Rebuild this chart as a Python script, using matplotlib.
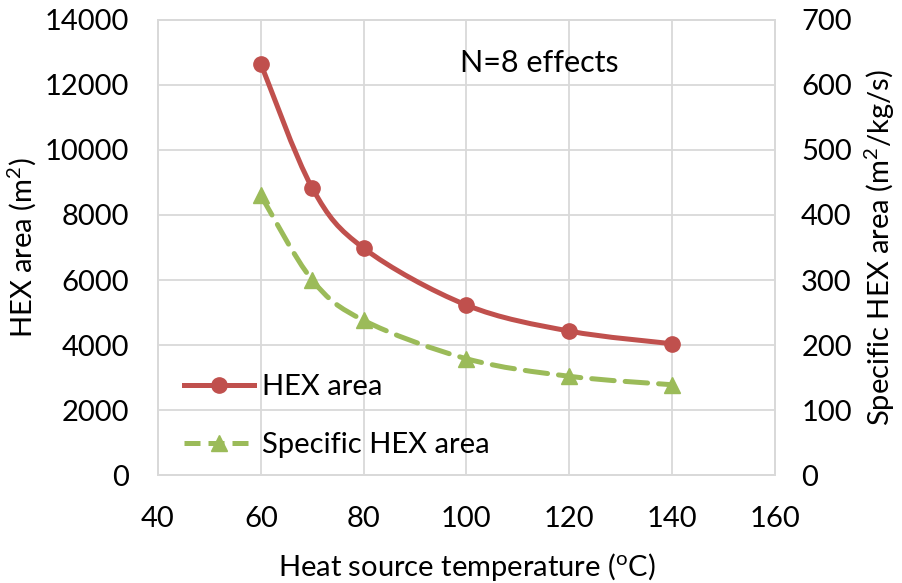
import matplotlib.pyplot as plt
import numpy as np
from matplotlib.path import Path
from matplotlib.patches import PathPatch
from matplotlib.lines import Line2D

plt.rcParams['font.family'] = ['Lato', 'DejaVu Sans']

# data
temps = [60, 70, 80, 100, 120, 140]
hex_area = [12650, 8830, 6980, 5230, 4430, 4040]
spec_hex_area = [430, 300, 238, 179, 152, 139]

red = '#c0504d'
green = '#9bbb59'
grid_c = '#d9d9d9'
fs = 21


def smooth_path(x, y):
    # Excel-like smoothed line: cubic Bezier segments through the points
    pts = np.column_stack([x, y]).astype(float)
    verts = [pts[0]]
    codes = [Path.MOVETO]
    n = len(pts)
    for i in range(n - 1):
        p0 = pts[i - 1] if i > 0 else pts[i]
        p1 = pts[i]
        p2 = pts[i + 1]
        p3 = pts[i + 2] if i + 2 < n else pts[i + 1]
        c1 = p1 + (p2 - p0) / 6
        c2 = p2 - (p3 - p1) / 6
        verts += [c1, c2, p2]
        codes += [Path.CURVE4] * 3
    return Path(verts, codes)


fig = plt.figure(figsize=(9.03, 5.83), dpi=100)
ax = fig.add_axes([0.175, 0.185, 0.683, 0.781])
ax2 = ax.twinx()

ax.set_xlim(40, 160)
ax.set_ylim(0, 14000)
ax2.set_ylim(0, 700)
ax.set_xticks(range(40, 161, 20))
ax.set_yticks(range(0, 14001, 2000))
ax2.set_yticks(range(0, 701, 100))

ax.grid(True, color=grid_c, linewidth=1.3)
ax.set_axisbelow(True)
for a in (ax, ax2):
    for s in a.spines.values():
        s.set_color(grid_c)
        s.set_linewidth(1.3)
    a.tick_params(length=0, labelsize=fs, pad=21)
ax.tick_params(axis='x', pad=22)
ax2.tick_params(axis='y', pad=19)

lw = 3.6
ax.add_patch(PathPatch(smooth_path(temps, hex_area), fill=False,
                       edgecolor=red, linewidth=lw, zorder=3))
ax.plot(temps, hex_area, linestyle='none', marker='o', markersize=11,
        color=red, zorder=4)

ax2.add_patch(PathPatch(smooth_path(temps, spec_hex_area), fill=False,
                        edgecolor=green, linewidth=lw, linestyle=(0, (4.5, 2.2)),
                        capstyle='round', zorder=3))
ax2.plot(temps, spec_hex_area, linestyle='none', marker='^', markersize=11,
         color=green, zorder=4)

ax.set_xlabel('Heat source temperature ($\\mathregular{^{o}}$C)', fontsize=fs, labelpad=14)
ax.set_ylabel('HEX area (m$\\mathregular{^{2}}$)', fontsize=fs, labelpad=5)
ax2.set_ylabel('Specific HEX area (m$\\mathregular{^{2}}$/kg/s)', fontsize=fs, labelpad=8)

ax.text(0.49, 0.905, 'N=8 effects', transform=ax.transAxes, fontsize=22,
        ha='left', va='center')

handles = [
    Line2D([], [], color=red, linewidth=lw, marker='o', markersize=11),
    Line2D([], [], color=green, linewidth=lw, linestyle=(0, (3.2, 1.6)),
           marker='^', markersize=11),
]
leg = ax.legend(handles, ['HEX area', 'Specific HEX area'], loc='lower left',
                bbox_to_anchor=(0.0, -0.02), frameon=False, fontsize=fs,
                handlelength=2.4, handletextpad=0.25, labelspacing=1.1)

fig.savefig('out.png', dpi=100)
